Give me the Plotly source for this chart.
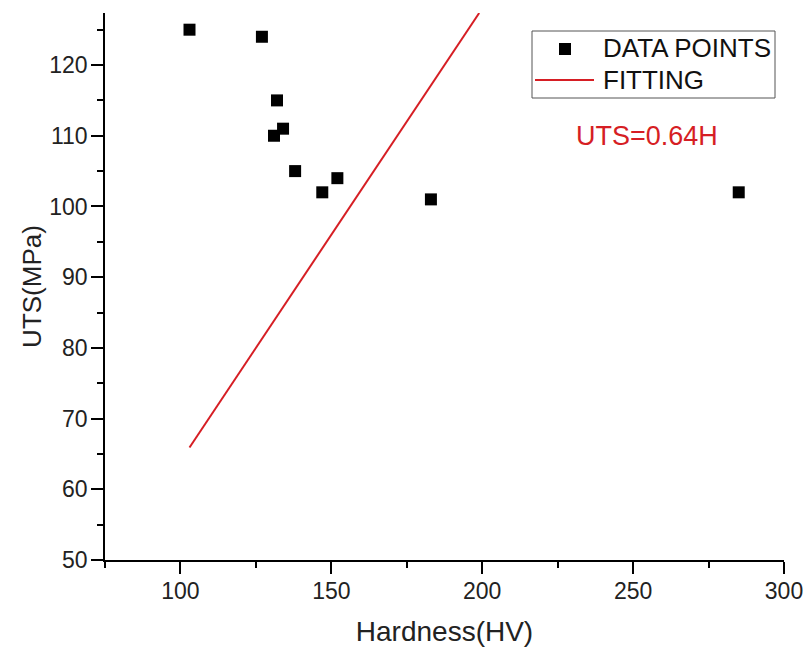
import plotly.graph_objects as go

hardness = [103, 127, 132, 131, 134, 138, 147, 152, 183, 285]
uts = [125, 124, 115, 110, 111, 105, 102, 104, 101, 102]
fit_slope = 0.64
fit_x = [103, 199]
fit_y = [fit_slope * v for v in fit_x]
legend_labels = ["DATA POINTS", "FITTING"]

RED = "rgb(214,30,36)"
FONT = "Liberation Sans, Arial, sans-serif"

L, R, T, B, W, H = 105, 24, 13, 87, 808, 647
PW, PH = W - L - R, H - T - B


def px(x):
    return (x - L) / PW


def py(y):
    return 1 - (y - T) / PH


fig = go.Figure()
fig.add_trace(go.Scatter(x=hardness, y=uts, mode="markers", name=legend_labels[0], showlegend=False,
                         marker=dict(symbol="square", size=12, color="black")))
fig.add_trace(go.Scatter(x=fit_x, y=fit_y, mode="lines", name=legend_labels[1], showlegend=False,
                         line=dict(color=RED, width=2)))

axis_common = dict(showline=True, linecolor="black", linewidth=1.5, mirror=False,
                   ticks="outside", ticklen=12, tickwidth=1.5, tickcolor="black",
                   showgrid=False, zeroline=False, automargin=False,
                   tickfont=dict(size=23, color="#222", family=FONT))

fig.update_xaxes(range=[75, 300], tickvals=[100, 150, 200, 250, 300], ticklabelstandoff=-2,
                 minor=dict(tickvals=[75, 125, 175, 225, 275], ticklen=6, tickwidth=1.5,
                            tickcolor="black", ticks="outside"),
                 title=dict(text="Hardness(HV)", font=dict(size=28, color="#222", family=FONT), standoff=20),
                 **axis_common)
fig.update_yaxes(range=[50, 127.36], tickvals=[50, 60, 70, 80, 90, 100, 110, 120], ticklabelstandoff=-1,
                 minor=dict(tickvals=[55, 65, 75, 85, 95, 105, 115, 125], ticklen=6, tickwidth=1.5,
                            tickcolor="black", ticks="outside"),
                 title=dict(text="UTS(MPa)", font=dict(size=26, color="#222", family=FONT), standoff=0),
                 **axis_common)

# formula label
fig.add_annotation(text="UTS=0.64H", xref="paper", yref="paper", x=px(647), y=py(136),
                   xanchor="center", yanchor="middle",
                   showarrow=False, font=dict(size=27, color=RED, family=FONT))

# legend box (drawn like the original's framed legend)
fig.add_shape(type="rect", xref="paper", yref="paper", x0=px(532), x1=px(775), y0=py(31), y1=py(98),
              line=dict(color="#555", width=1), fillcolor="rgba(0,0,0,0)")
fig.add_shape(type="rect", xref="paper", yref="paper", x0=px(559), x1=px(571), y0=py(43), y1=py(55),
              line=dict(width=0), fillcolor="black")
fig.add_shape(type="line", xref="paper", yref="paper", x0=px(535), x1=px(594), y0=py(80), y1=py(80),
              line=dict(color=RED, width=2))
for label, yc in zip(legend_labels, [48.5, 79.5]):
    fig.add_annotation(text=label, xref="paper", yref="paper", x=px(601), y=py(yc),
                       xanchor="left", yanchor="middle", showarrow=False,
                       font=dict(size=26, color="#111", family=FONT))

fig.update_layout(
    width=W, height=H,
    margin=dict(l=L, r=R, t=T, b=B),
    plot_bgcolor="white", paper_bgcolor="white",
    font=dict(family=FONT, color="#222"),
    showlegend=False,
)

fig.write_html("out.html")
